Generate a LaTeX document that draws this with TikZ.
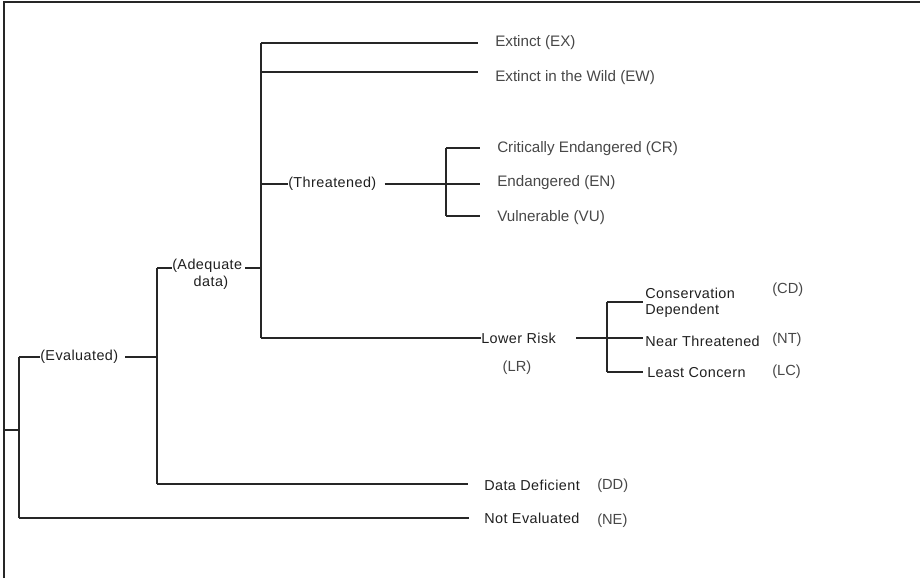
\documentclass[tikz,border=0pt]{standalone}
\usepackage{fontspec}
\setmainfont{Liberation Sans}
\newfontfamily\bmfont[LetterSpace=3]{Liberation Sans}
\begin{document}
\begin{tikzpicture}[x=0.75pt,y=-0.75pt,
  conn/.style={draw=black!85,line width=1.3pt},
  frame/.style={draw=black!85,line width=1.5pt},
  leaf/.style={anchor=west,inner sep=0pt,text=black!72,font=\fontsize{11.4}{13}\selectfont},
  cat/.style={anchor=west,inner sep=0pt,text=black!88,font=\bmfont\fontsize{10.8}{12.5}\selectfont},
  abbr/.style={anchor=west,inner sep=0pt,text=black!72,font=\fontsize{11}{13}\selectfont}]
\useasboundingbox (0,0) rectangle (920,578);
\draw[frame] (4,578) -- (4,2) -- (920,2);

% coordinates
\coordinate (root) at (5,430);
\coordinate (v0t) at (19,357);
\coordinate (v0m) at (19,430);
\coordinate (v0b) at (19,518);
\coordinate (v1t) at (157,268);
\coordinate (v1m) at (157,357);
\coordinate (v1b) at (157,484);
\coordinate (v2a) at (261,43);
\coordinate (v2b) at (261,72);
\coordinate (v2c) at (261,184);
\coordinate (v2d) at (261,268);
\coordinate (v2e) at (261,338);
\coordinate (v3a) at (446,148);
\coordinate (v3b) at (446,184);
\coordinate (v3c) at (446,216);
\coordinate (v4a) at (607,302);
\coordinate (v4b) at (607,338);
\coordinate (v4c) at (607,372);
\coordinate (exE) at (478,43);
\coordinate (ewE) at (478,72);
\coordinate (crE) at (480,148);
\coordinate (enE) at (480,184);
\coordinate (vuE) at (480,216);
\coordinate (cdE) at (643,302);
\coordinate (ntE) at (643,338);
\coordinate (lcE) at (643,372);

% nodes
\node[cat] (ev) at (40,357) {(Evaluated)};
\node[cat] (ad1) at (172,266) {(Adequate};
\node[cat,anchor=center] (ad2) at (211,283) {data)};
\node[cat] (thr) at (288,184) {(Threatened)};
\node[leaf] (ex) at (495,43) {Extinct (EX)};
\node[leaf] (ew) at (495,78) {Extinct in the Wild (EW)};
\node[leaf] (cr) at (497,149) {Critically Endangered (CR)};
\node[leaf] (en) at (497,183) {Endangered (EN)};
\node[leaf] (vu) at (497,218) {Vulnerable (VU)};
\node[cat] (lr) at (481,338) {Lower Risk};
\node[abbr,anchor=center] (lrab) at (517,368) {(LR)};
\node[cat] (cd1) at (645,293) {Conservation};
\node[cat] (cd2) at (645,311) {Dependent};
\node[cat] (nt) at (645,341) {Near Threatened};
\node[cat] (lc) at (647,373) {Least Concern};
\node[abbr] (cdab) at (772,290) {(CD)};
\node[abbr] (ntab) at (772,340) {(NT)};
\node[abbr] (lcab) at (772,372) {(LC)};
\node[cat] (dd) at (484,485) {Data Deficient};
\node[abbr] (ddab) at (597,486) {(DD)};
\node[cat] (ne) at (484,518) {Not Evaluated};
\node[abbr] (neab) at (597,521) {(NE)};

% connectors
\draw[conn] (root) -- (v0m);
\draw[conn] (v0t) -- (v0b);
\draw[conn] (v0t) -- (ev.west);
\draw[conn] ([xshift=5]ev.east) -- (v1m);
\draw[conn] (v0b) -- ([xshift=-11]ne.west);
\draw[conn] (v1t) -- (v1b);
\draw[conn] (v1t) -- (ad1.west |- v1t);
\draw[conn] (v1b) -- ([xshift=-12]dd.west |- v1b);
\draw[conn] ([xshift=2]ad1.east |- v2d) -- (v2d);
\draw[conn] (v2a) -- (v2e);
\draw[conn] (v2a) -- (exE);
\draw[conn] (v2b) -- (ewE);
\draw[conn] (v2c) -- (thr.west);
\draw[conn] ([xshift=6]thr.east) -- (v3b);
\draw[conn] (v2e) -- (lr.west);
\draw[conn] (v3a) -- (v3c);
\draw[conn] (v3a) -- (crE);
\draw[conn] (v3b) -- (enE);
\draw[conn] (v3c) -- (vuE);
\draw[conn] ([xshift=15]lr.east) -- (v4b);
\draw[conn] (v4a) -- (v4c);
\draw[conn] (v4a) -- (cdE);
\draw[conn] (v4b) -- (ntE);
\draw[conn] (v4c) -- (lcE);
\end{tikzpicture}
\end{document}
